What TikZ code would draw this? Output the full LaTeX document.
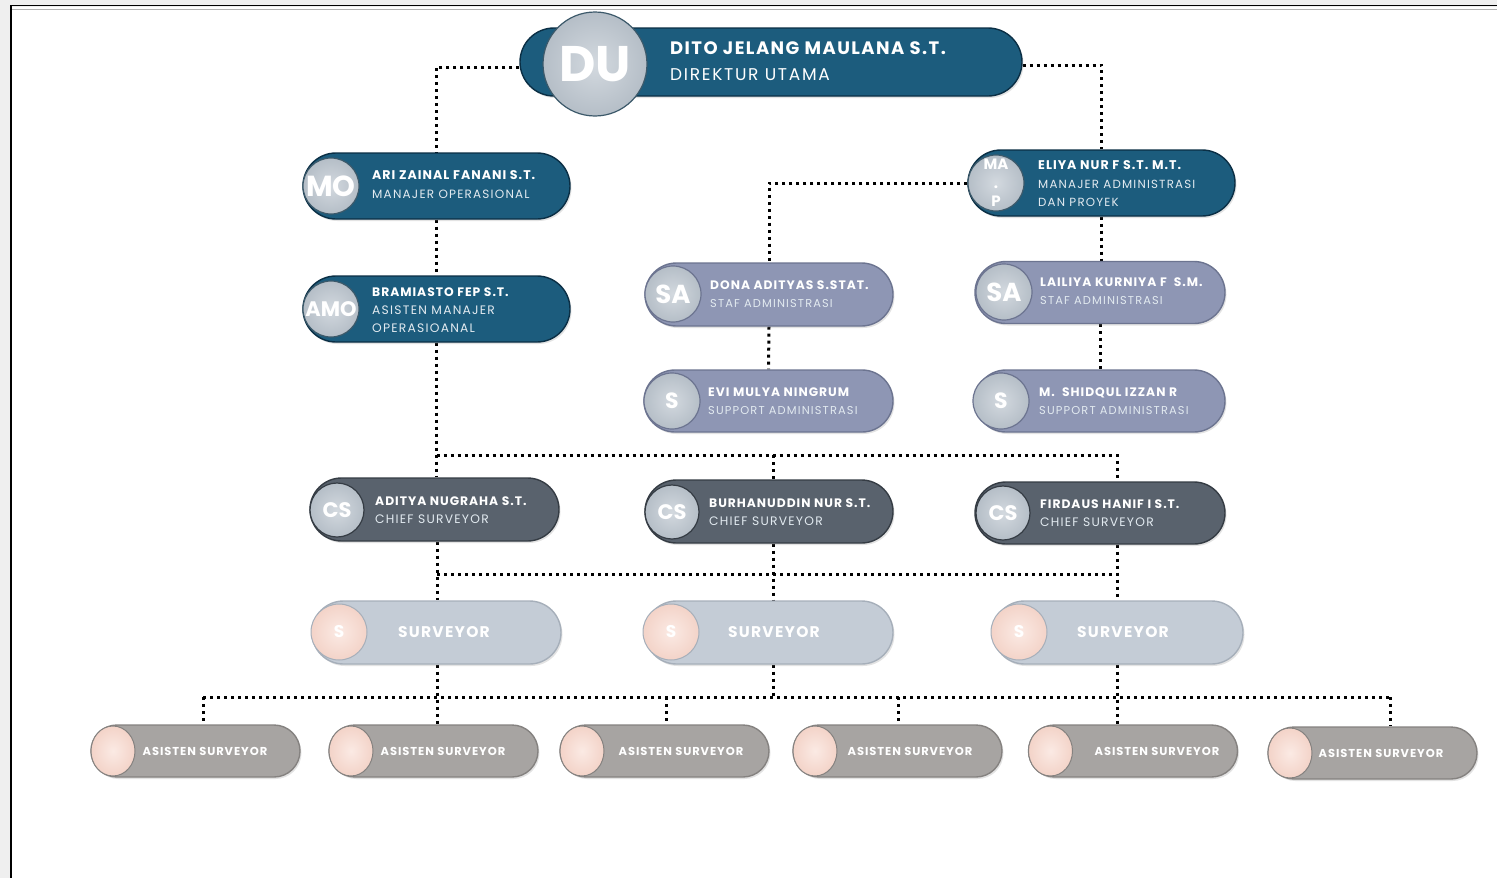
\documentclass[tikz,border=0pt]{standalone}
\usepackage{fontspec}
\setmainfont{Poppins}
\newfontfamily\nmf[LetterSpace=8]{Poppins}
\newfontfamily\ttf[LetterSpace=10]{Poppins}
\usetikzlibrary{shapes.misc,shapes.geometric,shadows}
\definecolor{pagebg}{HTML}{EFEFEF}
\definecolor{bluef}{HTML}{1C5C7D}
\definecolor{blued}{HTML}{0B2F45}
\definecolor{lavf}{HTML}{8E96B4}
\definecolor{lavd}{HTML}{6C7490}
\definecolor{csf}{HTML}{59626D}
\definecolor{csd}{HTML}{353C44}
\definecolor{svf}{HTML}{C4CCD6}
\definecolor{svd}{HTML}{A6AFBA}
\definecolor{asf}{HTML}{A7A4A2}
\definecolor{asd}{HTML}{858280}
\definecolor{peach}{HTML}{F3D3C8}
\definecolor{peachl}{HTML}{FBEAE4}
\definecolor{cirl}{HTML}{D3D9DF}
\definecolor{cird}{HTML}{B5BEC7}
\definecolor{titlec}{HTML}{E2EAF0}
\newcommand\nm[1]{{\nmf\bfseries #1}}
\newcommand\tl[2][12.3]{{\ttf\fontsize{#1}{18}\selectfont\color{titlec}#2}}
\pgfdeclarelayer{back}
\pgfdeclarelayer{lines}
\pgfsetlayers{back,lines,main}
\begin{document}
\begin{tikzpicture}[x=1pt,y=-1pt,
  pill/.style={rounded rectangle, line width=1.4pt, inner sep=0pt,
    drop shadow={opacity=0.22, shadow xshift=1.5pt, shadow yshift=-2pt}},
  bluepill/.style={pill, fill=bluef, draw=blued},
  lavpill/.style={pill, fill=lavf, draw=lavd},
  cspill/.style={pill, fill=csf, draw=csd},
  svpill/.style={pill, fill=svf, draw=svd},
  aspill/.style={pill, fill=asf, draw=asd},
  badge/.style={circle, inner sep=0pt, draw=blued!80, line width=1.2pt,
    inner color=cirl, outer color=cird, text=white, font=\bfseries},
  pbadge/.style={circle, inner sep=0pt, draw=svd, line width=1pt,
    inner color=peachl, outer color=peach, text=white, font=\bfseries},
  abadge/.style={ellipse, inner sep=0pt, draw=asd, line width=1pt,
    inner color=peachl, outer color=peach, minimum width=44pt, minimum height=50pt},
  namet/.style={anchor=west, align=left, text=white, inner sep=0pt,
    font=\fontsize{12.3}{18.5}\selectfont},
  conn/.style={line width=3pt, dash pattern=on 3pt off 4pt, black}
]
\useasboundingbox (0,0) rectangle (1497,878);
\begin{pgfonlayer}{back}
  \fill[pagebg] (0,0) rectangle (1497,878);
  \fill[white] (11,7) rectangle (1497,878);
  \draw[black, line width=1.6pt] (11,878) -- (11,5.5) -- (1497,5.5);
  \draw[gray!60, line width=1.2pt] (12,9.5) -- (1497,9.5);
\end{pgfonlayer}

% ---------- Direktur utama ----------
\node[bluepill, minimum width=502pt, minimum height=68pt] (du) at (771,62) {};
\node[badge, minimum size=104pt, font=\bfseries\fontsize{50}{50}\selectfont] (duc) at (595,64) {DU};
\node[namet, font=\fontsize{18}{26}\selectfont] (dut) at (670,61) {\nm{DITO JELANG MAULANA S.T.}\\{\ttf\fontsize{17}{26}\selectfont DIREKTUR UTAMA}};

% ---------- Manajer operasional ----------
\node[bluepill, minimum width=267pt, minimum height=66pt] (mo) at (436.5,186) {};
\node[badge, minimum size=56pt, font=\bfseries\fontsize{29}{29}\selectfont] (moc) at (331,186) {MO};
\node[namet, font=\fontsize{12.6}{19}\selectfont] (mot) at (372,185) {\nm{ARI ZAINAL FANANI S.T.}\\\tl[12]{MANAJER OPERASIONAL}};

\node[bluepill, minimum width=267pt, minimum height=66pt] (amo) at (436.5,309) {};
\node[badge, minimum size=56pt, font=\bfseries\fontsize{21}{21}\selectfont] (amoc) at (331,309) {AMO};
\node[namet, font=\fontsize{12.3}{18}\selectfont] (amot) at (372,310) {\nm{BRAMIASTO FEP S.T.}\\\tl{ASISTEN MANAJER}\\\tl{OPERASIOANAL}};

% ---------- Manajer administrasi ----------
\node[bluepill, minimum width=267pt, minimum height=66pt] (map) at (1101.5,183) {};
\node[badge, minimum size=56pt, align=center, font=\bfseries\fontsize{15}{18.5}\selectfont] (mapc) at (996,183) {MA\\.\\P};
\node[namet, font=\fontsize{12.6}{18.5}\selectfont] (mapt) at (1038,184) {\nm{ELIYA NUR F S.T. M.T.}\\\tl[11.8]{MANAJER ADMINISTRASI}\\\tl[11.8]{DAN PROYEK}};

% ---------- Staf administrasi ----------
\node[lavpill, minimum width=248pt, minimum height=63pt] (sa1) at (769,294.5) {};
\node[badge, draw=lavd, minimum size=56pt, font=\bfseries\fontsize{26}{26}\selectfont] (sa1c) at (673,294) {SA};
\node[namet] (sa1t) at (710,294) {\nm{DONA ADITYAS S.STAT.}\\\tl[11.4]{STAF ADMINISTRASI}};

\node[lavpill, minimum width=250pt, minimum height=62pt] (sa2) at (1100,292.5) {};
\node[badge, draw=lavd, minimum size=56pt, font=\bfseries\fontsize{26}{26}\selectfont] (sa2c) at (1004,292) {SA};
\node[namet] (sa2t) at (1040,291) {\nm{LAILIYA KURNIYA F\ \ S.M.}\\\tl[11.4]{STAF ADMINISTRASI}};

\node[lavpill, minimum width=249pt, minimum height=62pt] (s1) at (768.5,401) {};
\node[badge, draw=lavd, minimum size=56pt, font=\bfseries\fontsize{22}{22}\selectfont] (s1c) at (672,401) {S};
\node[namet] (s1t) at (708,401) {\nm{EVI MULYA NINGRUM}\\\tl[11.4]{SUPPORT ADMINISTRASI}};

\node[lavpill, minimum width=250pt, minimum height=62pt] (s2) at (1100,401) {};
\node[badge, draw=lavd, minimum size=56pt, font=\bfseries\fontsize{22}{22}\selectfont] (s2c) at (1001,401) {S};
\node[namet] (s2t) at (1039,401) {\nm{M.\ \ SHIDQUL IZZAN R}\\\tl[11.4]{SUPPORT ADMINISTRASI}};

% ---------- Chief surveyor ----------
\node[cspill, minimum width=249pt, minimum height=63pt] (cs1) at (434.5,509.5) {};
\node[badge, draw=csd, minimum size=54pt, font=\bfseries\fontsize{21}{21}\selectfont] (cs1c) at (337,510) {CS};
\node[namet] (cs1t) at (375,510) {\nm{ADITYA NUGRAHA S.T.}\\\tl{CHIEF SURVEYOR}};

\node[cspill, minimum width=248pt, minimum height=63pt] (cs2) at (769,511.5) {};
\node[badge, draw=csd, minimum size=54pt, font=\bfseries\fontsize{21}{21}\selectfont] (cs2c) at (672,512) {CS};
\node[namet] (cs2t) at (709,512) {\nm{BURHANUDDIN NUR S.T.}\\\tl{CHIEF SURVEYOR}};

\node[cspill, minimum width=250pt, minimum height=62pt] (cs3) at (1100,513) {};
\node[badge, draw=csd, minimum size=54pt, font=\bfseries\fontsize{21}{21}\selectfont] (cs3c) at (1003,513) {CS};
\node[namet] (cs3t) at (1040,513) {\nm{FIRDAUS HANIF I S.T.}\\\tl{CHIEF SURVEYOR}};

% ---------- Surveyor ----------
\node[svpill, minimum width=249pt, minimum height=63pt] (sv1) at (436.5,632.5) {};
\node[pbadge, minimum size=56pt, font=\bfseries\fontsize{17}{17}\selectfont] (sv1c) at (339,632) {S};
\node[text=white, inner sep=0pt] (sv1t) at (444,632) {\nmf\bfseries\fontsize{15.5}{17}\selectfont SURVEYOR};

\node[svpill, minimum width=248pt, minimum height=63pt] (sv2) at (769,632.5) {};
\node[pbadge, minimum size=56pt, font=\bfseries\fontsize{17}{17}\selectfont] (sv2c) at (671,632) {S};
\node[text=white, inner sep=0pt] (sv2t) at (774,632) {\nmf\bfseries\fontsize{15.5}{17}\selectfont SURVEYOR};

\node[svpill, minimum width=250pt, minimum height=63pt] (sv3) at (1118,632.5) {};
\node[pbadge, minimum size=56pt, font=\bfseries\fontsize{17}{17}\selectfont] (sv3c) at (1019,632) {S};
\node[text=white, inner sep=0pt] (sv3t) at (1123,632) {\nmf\bfseries\fontsize{15.5}{17}\selectfont SURVEYOR};

% ---------- Asisten surveyor ----------
\foreach \n/\cx/\cy/\tx in {1/195.5/751/205, 2/433.5/751/443, 3/664.5/751/681, 4/897.5/751/910, 5/1133/751/1157, 6/1372.5/753/1381}{
  \node[aspill, minimum width=209pt, minimum height=52pt] (as\n) at (\cx,\cy) {};
  \node[abadge] (as\n c) at ([xshift=-82.5pt]as\n.center) {};
  \node[text=white, inner sep=0pt] (as\n t) at (\tx,\cy) {\nmf\bfseries\fontsize{11.5}{13}\selectfont ASISTEN SURVEYOR};
}

% ---------- Connectors ----------
\coordinate (b1m) at (773,455);
\coordinate (b1e) at (1117,455);
\coordinate (b2w) at (437,574);
\coordinate (b2m) at (773,574);
\coordinate (b2e) at (1117,574);
\coordinate (d1) at (203,697);
\coordinate (d2) at (437,697);
\coordinate (d3) at (666,697);
\coordinate (d4) at (898,697);
\coordinate (d5) at (1117,697);
\coordinate (d6) at (1390,697);
\coordinate (dm) at (773,697);
\coordinate (duw) at ([yshift=-5pt]du.west);
\coordinate (due) at ([yshift=-3pt]du.east);
\begin{pgfonlayer}{lines}
  \draw[conn] (duw) -- (mo.north |- duw) -- (mo.north);
  \draw[conn] (due) -- (map.north |- due) -- (map.north);
  \draw[conn] (mo.south) -- (amo.north);
  \draw[conn] (amo.south) -- (amo.south |- cs1.north);
  \draw[conn] (amo.south |- b1e) -- (b1e) -- (b1e |- cs3.north);
  \draw[conn] (b1m) -- (b1m |- cs2.north);
  \draw[conn] (map.west) -- (sa1.north |- map.west) -- (sa1.north);
  \draw[conn] (map.south) -- (map.south |- sa2.north);
  \draw[conn] (sa1.south) -- (s1.north);
  \draw[conn] (sa2.south) -- (sa2.south |- s2.north);
  \draw[conn] (b2w |- cs1.south) -- (b2w |- sv1.north);
  \draw[conn] (b2m |- cs2.south) -- (b2m |- sv2.north);
  \draw[conn] (b2e |- cs3.south) -- (b2e |- sv3.north);
  \draw[conn] (b2w) -- (b2e);
  \draw[conn] (d1) -- (d6);
  \draw[conn] (d2 |- sv1.south) -- (d2 |- as2.north);
  \draw[conn] (dm |- sv2.south) -- (dm);
  \draw[conn] (d5 |- sv3.south) -- (d5 |- as5.north);
  \draw[conn] (d1) -- (d1 |- as1.north);
  \draw[conn] (d3) -- (d3 |- as3.north);
  \draw[conn] (d4) -- (d4 |- as4.north);
  \draw[conn] (d6) -- (d6 |- as6.north);
\end{pgfonlayer}
\end{tikzpicture}
\end{document}
